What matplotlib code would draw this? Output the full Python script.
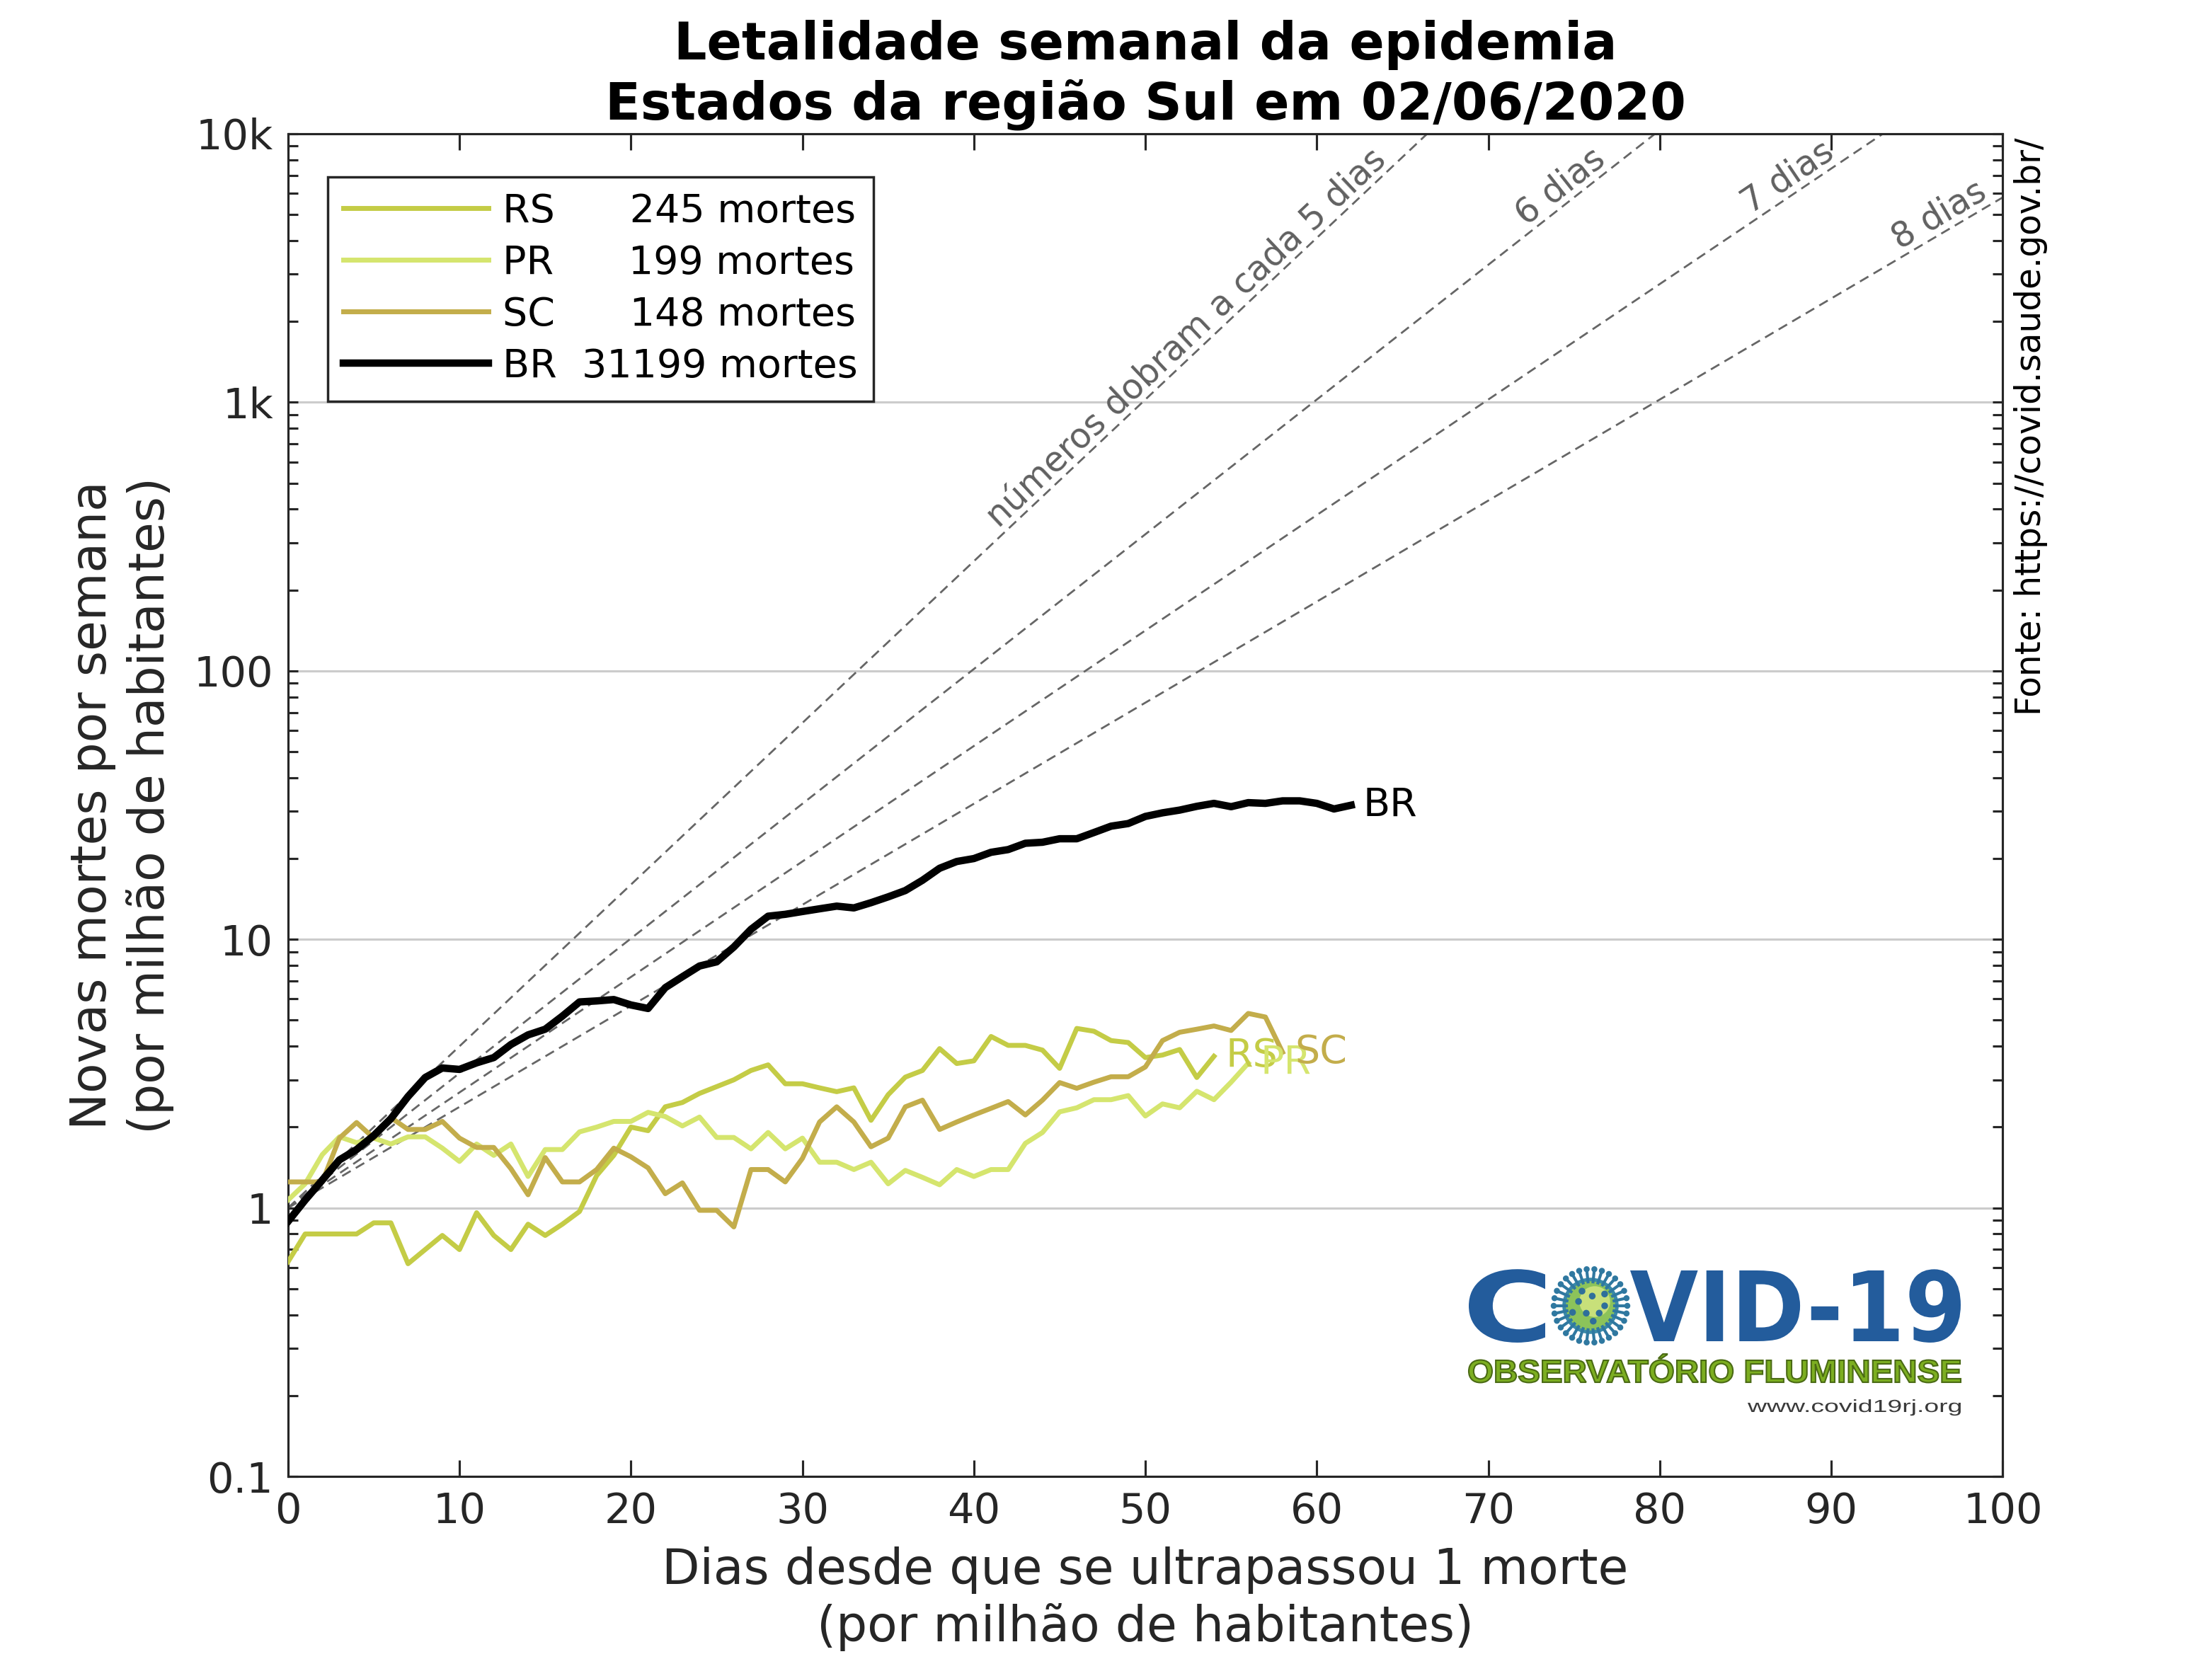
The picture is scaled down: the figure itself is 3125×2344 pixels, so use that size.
import numpy as np
import matplotlib
matplotlib.use('Agg')
import matplotlib.pyplot as plt
from matplotlib.ticker import FixedLocator, FuncFormatter, NullFormatter
from matplotlib.textpath import TextPath
from matplotlib.patches import PathPatch, Circle
from matplotlib.font_manager import FontProperties
from matplotlib.transforms import Affine2D

# novas mortes por semana (por milhao de habitantes), dia 0 = 1 morte/milhao
br = [0.89, 1.07, 1.27, 1.51, 1.65, 1.86, 2.15, 2.60, 3.06, 3.32,
      3.28, 3.47, 3.63, 4.06, 4.41, 4.63, 5.18, 5.85, 5.90, 5.97,
      5.70, 5.53, 6.61, 7.26, 7.96, 8.25, 9.37, 10.9, 12.2, 12.4,
      12.7, 13.0, 13.3, 13.1, 13.7, 14.4, 15.2, 16.6, 18.4, 19.5,
      20.0, 21.1, 21.6, 22.8, 23.0, 23.7, 23.7, 25.0, 26.4, 27.0,
      28.7, 29.6, 30.3, 31.3, 32.1, 31.2, 32.3, 32.1, 32.8, 32.8,
      32.1, 30.6, 31.6]
rs = [0.63, 0.80, 0.80, 0.80, 0.80, 0.88, 0.88, 0.62, 0.70, 0.79,
      0.70, 0.96, 0.79, 0.70, 0.87, 0.79, 0.87, 0.97, 1.32, 1.57,
      2.00, 1.94, 2.38, 2.47, 2.67, 2.83, 3.00, 3.25, 3.41, 2.90,
      2.90, 2.80, 2.71, 2.80, 2.12, 2.64, 3.07, 3.25, 3.92, 3.45,
      3.53, 4.35, 4.03, 4.03, 3.87, 3.31, 4.66, 4.55, 4.20, 4.13,
      3.63, 3.71, 3.89, 3.06, 3.67]
pr = [1.07, 1.23, 1.58, 1.84, 1.75, 1.82, 1.73, 1.84, 1.84, 1.67,
      1.49, 1.73, 1.57, 1.73, 1.31, 1.65, 1.65, 1.92, 2.00, 2.10,
      2.10, 2.27, 2.19, 2.02, 2.18, 1.83, 1.83, 1.66, 1.91, 1.66,
      1.82, 1.48, 1.48, 1.39, 1.48, 1.23, 1.38, 1.30, 1.22, 1.39,
      1.31, 1.39, 1.39, 1.74, 1.91, 2.28, 2.36, 2.53, 2.53, 2.62,
      2.20, 2.44, 2.36, 2.72, 2.53, 2.94, 3.46]
sc = [1.25, 1.25, 1.25, 1.82, 2.08, 1.82, 2.17, 1.96, 1.96, 2.10,
      1.82, 1.68, 1.68, 1.40, 1.12, 1.54, 1.25, 1.25, 1.39, 1.67,
      1.55, 1.41, 1.13, 1.24, 0.98, 0.98, 0.85, 1.39, 1.39, 1.25,
      1.53, 2.09, 2.38, 2.09, 1.69, 1.82, 2.38, 2.52, 1.96, 2.09,
      2.22, 2.35, 2.49, 2.22, 2.52, 2.93, 2.79, 2.94, 3.08, 3.08,
      3.35, 4.20, 4.51, 4.63, 4.76, 4.58, 5.30, 5.14, 3.80]

siglas = ['RS', 'PR', 'SC']
mortes = [245, 199, 148]
mortes_br = 31199
cores = ['#c4cc46', '#d5e56e', '#c3ad4b']

dobra = [5, 6, 7, 8]
dobra_txt = ['números dobram a cada 5 dias', '6 dias', '7 dias', '8 dias']
dobra_fim = [64.4, 77.2, 90.5, 99.4]

yticks = [0.1, 1, 10, 100, 1000, 10000]
ytick_txt = ['0.1', '1', '10', '100', '1k', '10k']

cinza = '#262626'

fig = plt.figure(figsize=(12.5, 9.376), dpi=250)
ax = fig.add_axes([0.1302, 0.110, 0.7752, 0.8094])
ax.set_yscale('log')
ax.set_xlim(0, 100)
ax.set_ylim(0.1, 10000)

# linhas de referencia (dobram a cada N dias)
for T in dobra:
    ax.plot([0, 100], [1, 2 ** (100 / T)], color='#666666', lw=0.8,
            ls=(0, (5, 3)), zorder=2)

series = [rs, pr, sc]
for s, c, sig, m in zip(series, cores, siglas, mortes):
    ax.plot(np.arange(len(s)), s, color=c, lw=2.0, zorder=3,
            label=f'{sig}      {m} mortes')
ax.plot(np.arange(len(br)), br, color='black', lw=3.0, zorder=4,
        label=f'BR  {mortes_br} mortes')

for s, c, sig in zip(series + [br], cores + ['black'], siglas + ['BR']):
    ax.text(len(s) - 1 + 0.7, s[-1], sig, color=c, fontsize=16,
            ha='left', va='center', zorder=5)

# rotulos das linhas tracejadas
for T, txt, xe in zip(dobra, dobra_txt, dobra_fim):
    p1 = ax.transData.transform((0, 1))
    p2 = ax.transData.transform((60, 2 ** (60 / T)))
    ang = np.degrees(np.arctan2(p2[1] - p1[1], p2[0] - p1[0]))
    ax.text(xe, 2 ** (xe / T), txt, rotation=ang, rotation_mode='anchor',
            ha='right', va='bottom', fontsize=14, color='#606060', zorder=2)

ax.yaxis.set_major_locator(FixedLocator(yticks))
ax.yaxis.set_major_formatter(FuncFormatter(lambda v, p: ytick_txt[yticks.index(v)] if v in yticks else ''))
ax.yaxis.set_minor_locator(FixedLocator([k * 10.0 ** e for e in range(-1, 4) for k in range(2, 10)]))
ax.yaxis.set_minor_formatter(NullFormatter())
ax.set_xticks(np.arange(0, 101, 10))
ax.grid(axis='y', which='major', color='#cccccc', lw=0.9, zorder=1)
ax.set_axisbelow(True)

ax.tick_params(which='both', direction='in', top=True, right=True,
               colors=cinza, labelsize=17, width=0.9)
ax.tick_params(axis='x', which='major', length=6.5, pad=6)
ax.tick_params(axis='y', which='both', length=4, pad=6)
for sp in ax.spines.values():
    sp.set_color(cinza)
    sp.set_linewidth(0.9)

ax.set_xlabel('Dias desde que se ultrapassou 1 morte\n(por milhão de habitantes)',
              fontsize=20, color=cinza, labelpad=6, linespacing=1.25)
ax.set_ylabel('Novas mortes por semana\n(por milhão de habitantes)',
              fontsize=20, color=cinza, labelpad=8, linespacing=1.25)
ax.set_title('Letalidade semanal da epidemia\nEstados da região Sul em 02/06/2020',
             fontsize=21, fontweight='bold', pad=6, linespacing=1.22)

leg = ax.legend(loc='upper left', bbox_to_anchor=(0.023, 0.968),
                borderaxespad=0, fontsize=16, handlelength=3.7,
                handletextpad=0.36, labelspacing=0.34, fancybox=False,
                framealpha=1, edgecolor=cinza)
leg.get_frame().set_linewidth(1.0)

fig.text(0.918, 0.917, 'Fonte: https://covid.saude.gov.br/', rotation=90,
         ha='center', va='top', fontsize=14, color='black')

# logotipo
lg = fig.add_axes([2060 / 3125, 1 - 2020 / 2344, 740 / 3125, 240 / 2344])
lg.set_xlim(0, 740)
lg.set_ylim(0, 240)
lg.axis('off')


def texto_caixa(s, x0, x1, base, cap, cor, fp, borda=None):
    tp = TextPath((0, 0), s, size=1, prop=fp)
    ext = tp.get_extents()
    hcap = TextPath((0, 0), 'H', size=1, prop=fp).get_extents().height
    sx = (x1 - x0) / ext.width
    sy = cap / hcap
    tr = Affine2D().translate(-ext.x0, 0).scale(sx, sy).translate(x0, base)
    lg.add_patch(PathPatch(tr.transform_path(tp), fc=cor,
                           ec=borda if borda else 'none', lw=0.6))


azul = '#235c9c'
fp_b = FontProperties(family='DejaVu Sans', weight='bold')
texto_caixa('C', 15, 123, 125, 100, azul, fp_b)
texto_caixa('VID-19', 243, 710, 125, 100, azul, fp_b)
texto_caixa('OBSERVATÓRIO FLUMINENSE', 15, 710, 67, 31, '#7cae21',
            FontProperties(family='Liberation Sans', weight='bold'), borda='#4a6a14')
texto_caixa('www.covid19rj.org', 409, 710, 25, 17, '#3a3a3a',
            FontProperties(family='Liberation Sans'))

# virus no lugar do "O"
cx, cy = 187, 175
for a in np.linspace(0, 2 * np.pi, 30, endpoint=False):
    lg.plot([cx + 34 * np.cos(a), cx + 52 * np.cos(a)],
            [cy + 34 * np.sin(a), cy + 52 * np.sin(a)], color='#2f78a0', lw=1.2)
    lg.add_patch(Circle((cx + 52 * np.cos(a), cy + 52 * np.sin(a)), 2.5, color='#2f78a0'))
lg.add_patch(Circle((cx, cy), 38, color='#3a8aa8'))
lg.add_patch(Circle((cx, cy), 33, color='#8cc35a'))
lg.add_patch(Circle((cx + 6, cy + 6), 20, color='#c8e07a'))
for a, r in zip(np.linspace(0, 2 * np.pi, 9, endpoint=False), [20, 26, 14, 24, 18, 27, 12, 22, 16]):
    lg.add_patch(Circle((cx + r * np.cos(a), cy + r * np.sin(a)), 3, color='#2f6f9a'))

fig.savefig('out.png', dpi=250, facecolor='white')
